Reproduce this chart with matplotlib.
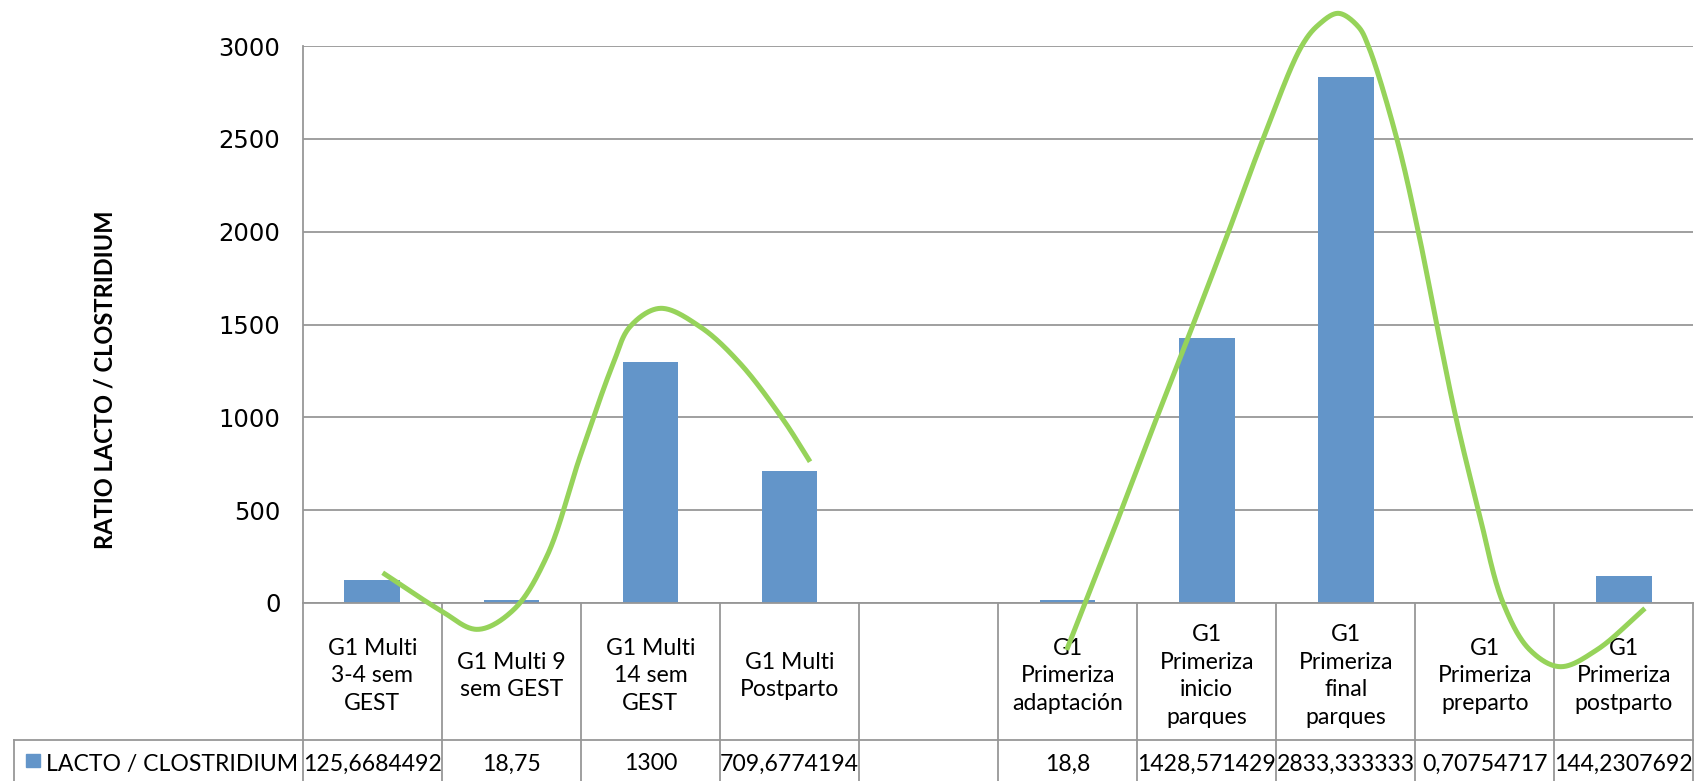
import numpy as np
import matplotlib
matplotlib.use("Agg")
import matplotlib.pyplot as plt
from matplotlib.patches import Rectangle

# ---- data -------------------------------------------------------------
categories = [
    "G1 Multi\n3-4 sem\nGEST",
    "G1 Multi 9\nsem GEST",
    "G1 Multi\n14 sem\nGEST",
    "G1 Multi\nPostparto",
    "",
    "G1\nPrimeriza\nadaptación",
    "G1\nPrimeriza\ninicio\nparques",
    "G1\nPrimeriza\nfinal\nparques",
    "G1\nPrimeriza\npreparto",
    "G1\nPrimeriza\npostparto",
]
ratio_values = [125.6684492, 18.75, 1300, 709.6774194, np.nan,
                18.8, 1428.571429, 2833.333333, 0.70754717, 144.2307692]
series_name = "LACTO / CLOSTRIDIUM"
y_label = "RATIO LACTO / CLOSTRIDIUM"
y_ticks = [0, 500, 1000, 1500, 2000, 2500, 3000]

# hand-drawn trend curves (knots in category / value units)
curve_a_x = [0.075, 0.487, 0.755, 1.014, 1.254, 1.494, 1.733, 1.853, 2.069,
             2.357, 2.644, 2.956, 3.148]
curve_a_y = [163, -38, -142, -38, 249, 788, 1291, 1488, 1587,
             1488, 1291, 986, 761]
curve_b_x = [4.993, 5.312, 5.640, 5.904, 6.157, 6.407, 6.683, 6.802, 6.946,
             7.090, 7.162, 7.366, 7.521, 7.653, 7.792, 7.953, 8.132, 8.324,
             8.540, 8.804, 9.151]
curve_b_y = [-253, 355, 996, 1503, 2000, 2503, 3000, 3113, 3176,
             3104, 3000, 2503, 2000, 1503, 998, 501, -2, -253,
             -343, -253, -29]

# ---- layout (pixels) --------------------------------------------------
W, H = 1700, 781
AX_L, AX_R, AX_T, AX_B = 302.7, 1693.5, 46.0, 603.0
ROW_SPLIT = 740.0       # line between category row and data row
TABLE_LEFT = 14.0
n = len(categories)
cat_w = (AX_R - AX_L) / n
px_per_unit = (AX_B - AX_T) / 3000.0

BAR_C = "#6395C9"
GRID_C = "#979797"
LINE_C = "#96D35A"
TABLE_FONT = "Lato"


def fy(py):
    return (AX_B - py) / (AX_B - AX_T)


def fx(px):
    return (px - AX_L) / cat_w - 0.5


def catmull_rom(xs, ys, steps=40, alpha=0.5):
    """Centripetal Catmull-Rom spline, evaluated in screen-like units."""
    pts = np.column_stack([np.asarray(xs) * cat_w,
                           np.asarray(ys) * px_per_unit]).astype(float)
    pts = np.vstack([2 * pts[0] - pts[1], pts, 2 * pts[-1] - pts[-2]])
    out = []
    for i in range(1, len(pts) - 2):
        p0, p1, p2, p3 = pts[i - 1], pts[i], pts[i + 1], pts[i + 2]
        t0 = 0.0
        t1 = t0 + np.linalg.norm(p1 - p0) ** alpha
        t2 = t1 + np.linalg.norm(p2 - p1) ** alpha
        t3 = t2 + np.linalg.norm(p3 - p2) ** alpha
        t = np.linspace(t1, t2, steps, endpoint=False)[:, None]
        a1 = (t1 - t) / (t1 - t0) * p0 + (t - t0) / (t1 - t0) * p1
        a2 = (t2 - t) / (t2 - t1) * p1 + (t - t1) / (t2 - t1) * p2
        a3 = (t3 - t) / (t3 - t2) * p2 + (t - t2) / (t3 - t2) * p3
        b1 = (t2 - t) / (t2 - t0) * a1 + (t - t0) / (t2 - t0) * a2
        b2 = (t3 - t) / (t3 - t1) * a2 + (t - t1) / (t3 - t1) * a3
        out.append((t2 - t) / (t2 - t1) * b1 + (t - t1) / (t2 - t1) * b2)
    out.append(pts[-2][None, :])
    res = np.vstack(out)
    return res[:, 0] / cat_w, res[:, 1] / px_per_unit


fig = plt.figure(figsize=(W / 100, H / 100), dpi=100)
ax = fig.add_axes([AX_L / W, 1 - AX_B / H, (AX_R - AX_L) / W, (AX_B - AX_T) / H])

x = np.arange(n)
ax.bar(x, ratio_values, width=0.4, color=BAR_C, zorder=2)

ax.set_xlim(-0.5, n - 0.5)
ax.set_ylim(0, 3000)
ax.set_yticks(y_ticks)
ax.set_xticks([])
ax.yaxis.grid(True, color=GRID_C, linewidth=1.3)
ax.set_axisbelow(True)
ax.tick_params(axis="y", length=0, pad=16, labelsize=17.5, labelcolor="black")
for lbl in ax.get_yticklabels():
    lbl.set_fontfamily("DejaVu Sans")
for side in ("top", "right"):
    ax.spines[side].set_visible(False)
for side in ("left", "bottom"):
    ax.spines[side].set_color(GRID_C)
    ax.spines[side].set_linewidth(1.3)

# ---- data table below the plot ----------------------------------------
tr = ax.get_xaxis_transform()
line_kw = dict(color=GRID_C, linewidth=1.3, transform=tr, clip_on=False, zorder=1)
for i in range(n + 1):
    xb = i - 0.5
    ax.plot([xb, xb], [0, fy(H + 5)], **line_kw)
ax.plot([fx(TABLE_LEFT), n - 0.5], [fy(ROW_SPLIT), fy(ROW_SPLIT)], **line_kw)
ax.plot([fx(TABLE_LEFT), fx(TABLE_LEFT)], [fy(ROW_SPLIT), fy(H + 5)], **line_kw)

for i, lab in enumerate(categories):
    if lab:
        ax.text(i, fy(676), lab, transform=tr, ha="center", va="center",
                multialignment="center", fontsize=16.6, family=TABLE_FONT,
                linespacing=1.4, clip_on=False)

row_y = fy(764)
for i, v in enumerate(ratio_values):
    if np.isfinite(v):
        txt = f"{v:.10g}".replace(".", ",")
        ax.text(i, row_y, txt, transform=tr, ha="center", va="center",
                fontsize=16.6, family=TABLE_FONT, clip_on=False)

# series key in the table's first column
fig.patches.append(Rectangle((26 / W, 1 - 767 / H), 14 / W, 13 / H,
                             transform=fig.transFigure, color=BAR_C))
fig.text(46 / W, 1 - 764 / H, series_name, ha="left", va="center",
         fontsize=16.6, family=TABLE_FONT)

# ---- axis title ---------------------------------------------------------
fig.text(105 / W, 1 - 379.5 / H, y_label, rotation=90, ha="center", va="center",
         fontsize=17, fontweight="bold", family=TABLE_FONT)

# ---- trend curves ---------------------------------------------------------
for cx, cy in ((curve_a_x, curve_a_y), (curve_b_x, curve_b_y)):
    sx, sy = catmull_rom(cx, cy)
    ax.plot(sx, sy, color=LINE_C, linewidth=3.6, solid_capstyle="butt",
            clip_on=False, zorder=5)

fig.savefig("out.png", dpi=100, facecolor="white")
